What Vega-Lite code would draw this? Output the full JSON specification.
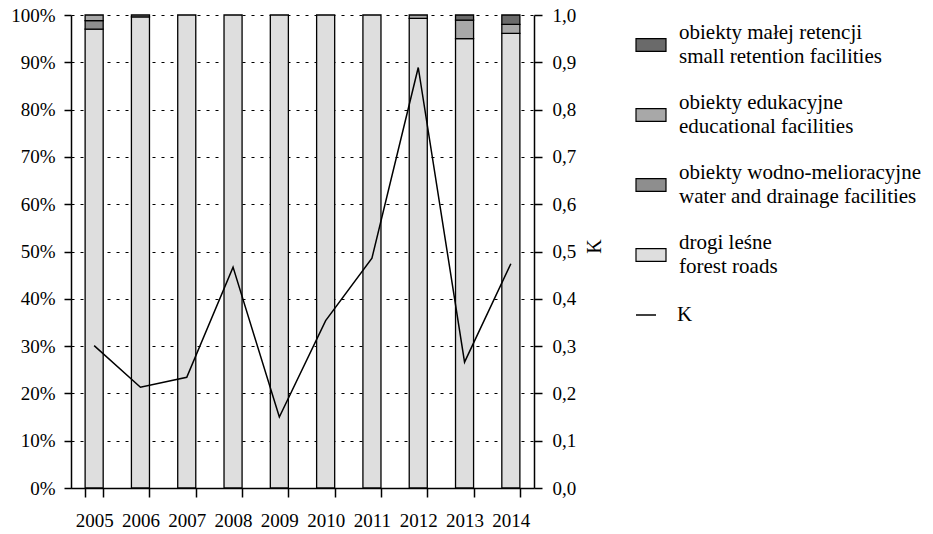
{
  "$schema": "https://vega.github.io/schema/vega-lite/v6.json",
  "autosize": {"type": "none"},
  "padding": {"left": 71, "top": 15, "right": 399, "bottom": 46},
  "width": 463,
  "height": 473,
  "background": "white",
  "config": {
    "font": "Liberation Serif",
    "view": {"stroke": null},
    "axis": {"labelFont": "Liberation Serif", "titleFont": "Liberation Serif", "labelColor": "black", "titleColor": "black", "domainColor": "black", "tickColor": "black", "domainWidth": 1.5, "tickWidth": 1.5},
    "legend": {"labelFont": "Liberation Serif", "labelColor": "black", "labelLimit": 0}
  },
  "datasets": {
    "bars": [
      {"year": "2005", "c": "drogi leśne|forest roads", "v": 97.0},
      {"year": "2005", "c": "obiekty wodno-melioracyjne|water and drainage facilities", "v": 1.8},
      {"year": "2005", "c": "obiekty edukacyjne|educational facilities", "v": 1.2},
      {"year": "2006", "c": "drogi leśne|forest roads", "v": 99.6},
      {"year": "2006", "c": "obiekty edukacyjne|educational facilities", "v": 0.4},
      {"year": "2007", "c": "drogi leśne|forest roads", "v": 100},
      {"year": "2008", "c": "drogi leśne|forest roads", "v": 100},
      {"year": "2009", "c": "drogi leśne|forest roads", "v": 100},
      {"year": "2010", "c": "drogi leśne|forest roads", "v": 100},
      {"year": "2011", "c": "drogi leśne|forest roads", "v": 100},
      {"year": "2012", "c": "drogi leśne|forest roads", "v": 99.3},
      {"year": "2012", "c": "obiekty edukacyjne|educational facilities", "v": 0.7},
      {"year": "2013", "c": "drogi leśne|forest roads", "v": 95.0},
      {"year": "2013", "c": "obiekty edukacyjne|educational facilities", "v": 3.9},
      {"year": "2013", "c": "obiekty małej retencji|small retention facilities", "v": 1.1},
      {"year": "2014", "c": "drogi leśne|forest roads", "v": 96.1},
      {"year": "2014", "c": "obiekty edukacyjne|educational facilities", "v": 1.9},
      {"year": "2014", "c": "obiekty małej retencji|small retention facilities", "v": 2.0}
    ],
    "k": [
      {"year": "2005", "K": 0.301},
      {"year": "2006", "K": 0.213},
      {"year": "2007", "K": 0.234},
      {"year": "2008", "K": 0.467},
      {"year": "2009", "K": 0.150},
      {"year": "2010", "K": 0.354},
      {"year": "2011", "K": 0.486},
      {"year": "2012", "K": 0.889},
      {"year": "2013", "K": 0.266},
      {"year": "2014", "K": 0.474}
    ]
  },
  "encoding": {
    "x": {
      "field": "year", "type": "ordinal",
      "scale": {"paddingInner": 0.61, "paddingOuter": 0.305},
      "axis": {"title": null, "labelAngle": 0, "labelFontSize": 19, "tickBand": "extent", "tickSize": 9, "labelPadding": 14}
    }
  },
  "layer": [
    {
      "data": {"name": "bars"},
      "transform": [
        {"calculate": "indexof(['drogi leśne|forest roads','obiekty wodno-melioracyjne|water and drainage facilities','obiekty edukacyjne|educational facilities','obiekty małej retencji|small retention facilities'], datum.c)", "as": "ord"}
      ],
      "mark": {"type": "bar", "stroke": "black", "strokeWidth": 1.3},
      "encoding": {
        "y": {
          "field": "v", "type": "quantitative", "stack": "normalize",
          "scale": {"domain": [0, 1]},
          "axis": {"title": null, "orient": "left", "format": ".0%", "values": [0, 0.1, 0.2, 0.3, 0.4, 0.5, 0.6, 0.7, 0.8, 0.9, 1], "labelFontSize": 19, "tickSize": 7, "labelPadding": 9, "grid": true, "gridColor": "black", "gridDash": [3, 6], "gridWidth": 1.2, "gridOpacity": 1}
        },
        "fill": {
          "field": "c", "type": "nominal",
          "scale": {
            "domain": ["obiekty małej retencji|small retention facilities", "obiekty edukacyjne|educational facilities", "obiekty wodno-melioracyjne|water and drainage facilities", "drogi leśne|forest roads"],
            "range": ["#6a6a6a", "#a8a8a8", "#8e8e8e", "#dedede"]
          },
          "legend": {
            "title": null, "orient": "none", "legendX": 564, "legendY": 14, "padding": 0,
            "labelExpr": "split(datum.label, '|')",
            "labelFontSize": 21, "labelOffset": 12, "rowPadding": 25,
            "symbolType": "M-1,-0.43H1V0.43H-1Z", "symbolSize": 900,
            "symbolStrokeColor": "black", "symbolStrokeWidth": 1.2,
            "symbolOpacity": 1,
            "encode": {"labels": {"update": {"lineHeight": {"value": 24}, "dy": {"value": -12}}}}
          }
        },
        "order": {"field": "ord", "type": "quantitative", "sort": "ascending"}
      }
    },
    {
      "data": {"name": "k"},
      "mark": {"type": "line", "color": "black", "strokeWidth": 1.5},
      "encoding": {
        "y": {
          "field": "K", "type": "quantitative",
          "scale": {"domain": [0, 1]},
          "axis": {"title": "K", "orient": "right", "titleAngle": -90, "titleFontSize": 20, "titleFontWeight": "normal", "titleX": 60, "titleY": 231, "titleAlign": "center", "titleBaseline": "middle", "values": [0, 0.1, 0.2, 0.3, 0.4, 0.5, 0.6, 0.7, 0.8, 0.9, 1], "labelExpr": "replace(format(datum.value, '.1f'), '.', ',')", "labelFontSize": 19, "tickSize": 8, "labelPadding": 10, "grid": false}
        },
        "stroke": {
          "datum": "K",
          "scale": {"range": ["black"]},
          "legend": {"title": null, "orient": "none", "legendX": 564, "legendY": 289, "padding": 0, "labelFontSize": 21, "labelOffset": 20, "symbolType": "stroke", "symbolSize": 400, "symbolStrokeWidth": 1.5}
        }
      }
    }
  ],
  "resolve": {"scale": {"y": "independent", "stroke": "independent", "fill": "independent"}}
}
